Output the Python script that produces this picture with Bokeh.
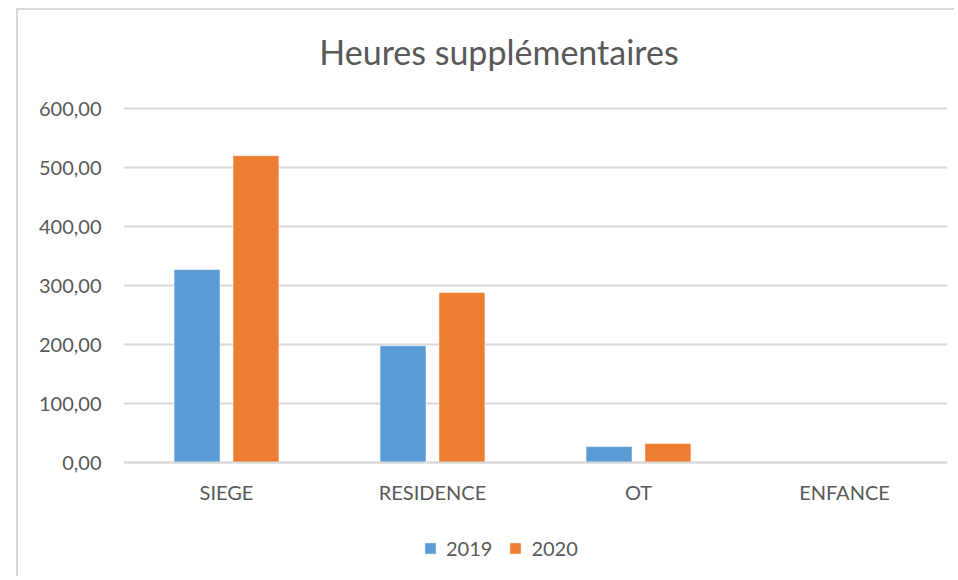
from bokeh.plotting import figure
from bokeh.models import ColumnDataSource, FactorRange, Range1d, FixedTicker, Legend, LegendItem, Label
from bokeh.transform import dodge
from bokeh.embed import file_html
from bokeh.resources import INLINE

title_text = "Heures supplémentaires"
categories = ["SIEGE", "RESIDENCE", "OT", "ENFANCE"]
series_names = ["2019", "2020"]
values_2019 = [327, 198, 27, 0]
values_2020 = [520, 288, 32, 0]
y_ticks = [0, 100, 200, 300, 400, 500, 600]
y_tick_labels = ["0,00", "100,00", "200,00", "300,00", "400,00", "500,00", "600,00"]

colors = ["#5B9BD5", "#ED7D31"]
FONT = "Lato"
TXT = "#595959"
GRID = "#D9D9D9"

# layout (page pixels)
W, H = 938, 568
ORIGIN_X, ORIGIN_Y = 18, 10          # canvas origin after margin + border
FRAME_L, FRAME_R = 123, 947
FRAME_T, FRAME_B = ORIGIN_Y, ORIGIN_Y + H
ZERO_PX, TOP_PX = 462, 108           # where 0 and 600 sit
px_per_unit = (ZERO_PX - TOP_PX) / (y_ticks[-1] - y_ticks[0])
y_start = -(FRAME_B - ZERO_PX) / px_per_unit
y_end = y_ticks[-1] + (TOP_PX - FRAME_T) / px_per_unit

src = ColumnDataSource(data=dict(cat=categories, v2019=values_2019, v2020=values_2020))

p = figure(
    width=W, height=H,
    x_range=FactorRange(*categories, range_padding=0),
    y_range=Range1d(y_start, y_end),
    output_backend="svg", toolbar_location=None, title_location=None,
    min_border_left=FRAME_L - ORIGIN_X, min_border_right=ORIGIN_X + W - FRAME_R,
    min_border_top=0, min_border_bottom=0,
)
p.margin = (8, 0, 0, 16)
p.styles = {"border-top": "2px solid #D9D9D9", "border-left": "2px solid #D9D9D9"}
p.outline_line_color = None
p.background_fill_color = "white"
p.border_fill_color = "white"

r1 = p.vbar(x=dodge("cat", -0.143, range=p.x_range), top="v2019", bottom=0, width=0.223, source=src,
            fill_color=colors[0], line_color="white", line_width=0.5)
r2 = p.vbar(x=dodge("cat", 0.143, range=p.x_range), top="v2020", bottom=0, width=0.223, source=src,
            fill_color=colors[1], line_color="white", line_width=0.5)

# y axis
p.yaxis.ticker = FixedTicker(ticks=y_ticks)
p.yaxis.major_label_overrides = {t: l for t, l in zip(y_ticks, y_tick_labels)}
p.yaxis.axis_line_color = None
p.yaxis.major_tick_line_color = None
p.yaxis.minor_tick_line_color = None
p.yaxis.major_label_standoff = 16
p.yaxis.major_label_text_font = FONT
p.yaxis.major_label_text_font_size = "20px"
p.yaxis.major_label_text_color = TXT

# x axis drawn at y = 0
p.xaxis.fixed_location = 0
p.xaxis.axis_line_color = GRID
p.xaxis.axis_line_width = 2
p.xaxis.major_tick_line_color = None
p.xaxis.minor_tick_line_color = None
p.xaxis.major_label_standoff = 11
p.xaxis.major_label_text_font = FONT
p.xaxis.major_label_text_font_size = "20px"
p.xaxis.major_label_text_color = TXT

p.xgrid.grid_line_color = None
p.ygrid.grid_line_color = GRID
p.ygrid.grid_line_width = 2

# title
p.add_layout(Label(x=498.5 - FRAME_L, y=FRAME_B - 51, x_units="screen", y_units="screen",
                   text=title_text, text_align="center", text_baseline="alphabetic",
                   text_font=FONT, text_font_size="34px", text_color=TXT))

# legend
legend = Legend(items=[LegendItem(label=series_names[0], renderers=[r1]),
                       LegendItem(label=series_names[1], renderers=[r2])],
                orientation="horizontal", location=(423 - FRAME_L, FRAME_B - 560),
                padding=0, margin=0, spacing=16, label_standoff=9,
                glyph_width=14, glyph_height=14,
                label_text_font=FONT, label_text_font_size="20px", label_text_color=TXT,
                border_line_color=None, background_fill_alpha=0)
p.add_layout(legend, "center")

open("out.html", "w").write(file_html(p, INLINE))
